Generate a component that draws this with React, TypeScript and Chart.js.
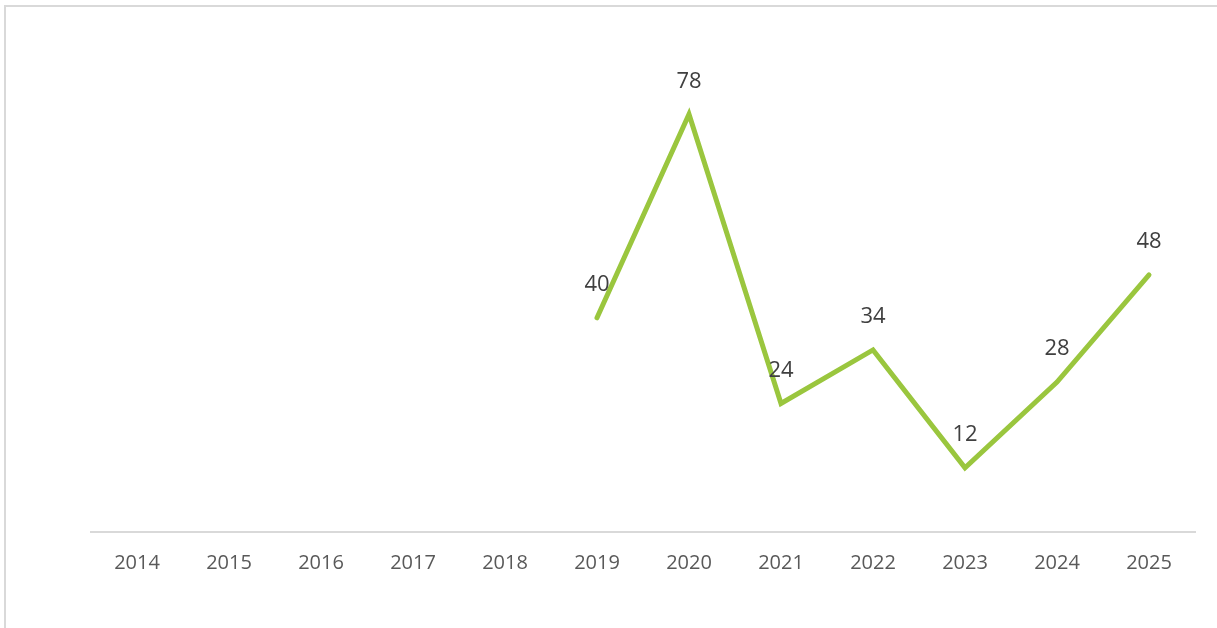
import React, { useEffect, useRef } from "react";
import { Chart, registerables } from "chart.js";

Chart.register(...registerables);

const years = ["2014", "2015", "2016", "2017", "2018", "2019", "2020", "2021", "2022", "2023", "2024", "2025"];
const values: (number | null)[] = [null, null, null, null, null, 40, 78, 24, 34, 12, 28, 48];

const labelPlugin = {
  id: "pointLabels",
  afterDatasetsDraw(chart: any) {
    const ctx = chart.ctx;
    const meta = chart.getDatasetMeta(0);
    ctx.save();
    ctx.font = "22px 'Open Sans'";
    ctx.fillStyle = "#404040";
    ctx.textAlign = "center";
    ctx.textBaseline = "middle";
    meta.data.forEach((pt: any, i: number) => {
      const v = values[i];
      if (v === null || v === undefined) return;
      ctx.fillText(String(v), pt.x, pt.y - 33);
    });
    ctx.restore();
  },
};

export default function App() {
  const ref = useRef<HTMLCanvasElement | null>(null);
  useEffect(() => {
    if (!ref.current) return;
    const chart = new Chart(ref.current, {
      type: "line",
      data: {
        labels: years,
        datasets: [
          {
            data: values,
            borderColor: "#9AC63E",
            borderWidth: 5,
            pointRadius: 0,
            borderCapStyle: "round",
            borderJoinStyle: "miter",
            tension: 0,
            spanGaps: false,
          },
        ],
      },
      options: {
        animation: false,
        responsive: false,
        maintainAspectRatio: false,
        layout: { padding: { left: 91, right: 22, top: 50, bottom: 34 } },
        plugins: { legend: { display: false }, tooltip: { enabled: false } },
        scales: {
          x: {
            offset: true,
            grid: { display: false, drawTicks: false },
            border: { display: true, color: "#d9d9d9", width: 2 },
            ticks: { color: "#595959", font: { family: "'Open Sans'", size: 20 }, padding: 19 },
          },
          y: { display: false, min: 0, max: 90 },
        },
      },
      plugins: [labelPlugin],
    });
    return () => chart.destroy();
  }, []);
  return (
    <div style={{ position: "fixed", left: 0, top: 0, width: 1217, height: 628, overflow: "hidden", background: "#fff" }}>
      <div
        style={{
          position: "absolute",
          left: 4,
          top: 5,
          width: 1300,
          height: 700,
          border: "2px solid #d9d9d9",
          boxSizing: "border-box",
        }}
      />
      <canvas ref={ref} width={1217} height={628} style={{ position: "absolute", left: 0, top: 0 }} />
    </div>
  );
}
